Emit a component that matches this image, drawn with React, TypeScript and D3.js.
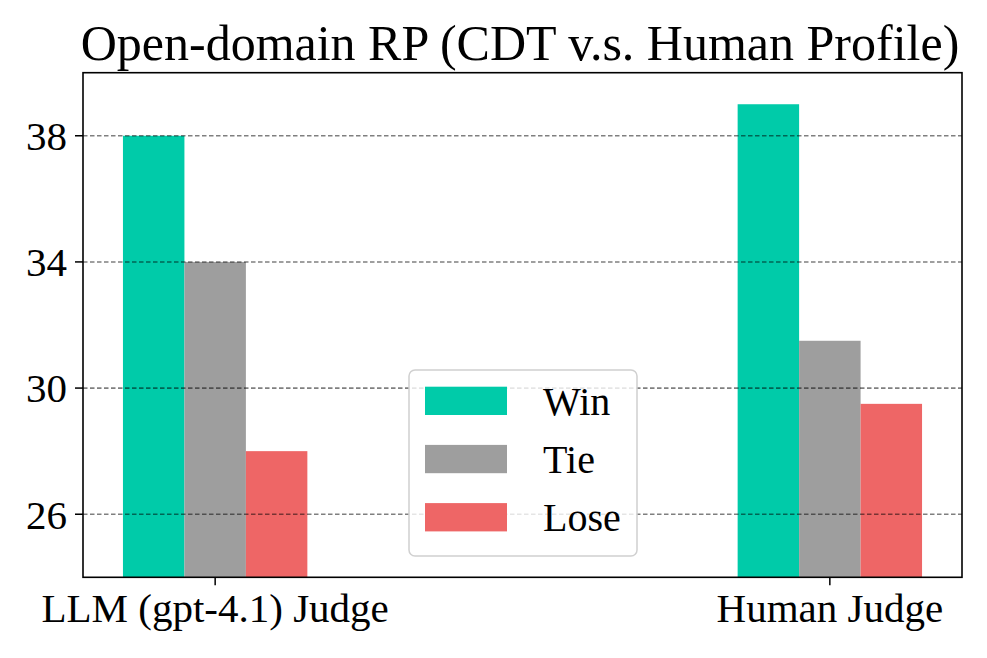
import React from "react";
import * as d3 from "d3";

const categories = ["LLM (gpt-4.1) Judge", "Human Judge"];
const seriesNames = ["Win", "Tie", "Lose"];
const winValues = [38, 39];
const tieValues = [34, 31.5];
const loseValues = [28, 29.5];
const yTicks = [26, 30, 34, 38];
const colors = ["#00cba9", "#9e9e9e", "#ee6666"];
const title = "Open-domain RP (CDT v.s. Human Profile)";

export default function App() {
  const W = 987, H = 658;
  const left = 83, right = 962, top = 72.7, bottom = 577.3;
  const font = "Times New Roman, Liberation Serif, Times, serif";
  const x = d3.scaleLinear().domain([-0.215, 1.215]).range([left, right]);
  const y = d3.scaleLinear().domain([24, 40]).range([bottom, top]);
  const barW = 0.1;
  const series = [winValues, tieValues, loseValues];

  return (
    <svg width={W} height={H} style={{ position: "absolute", left: 0, top: 0, fontFamily: font }}>
      <rect x={0} y={0} width={W} height={H} fill="#fff" />
      <text x={520} y={60} textAnchor="middle" fontSize={50} fill="#000">{title}</text>
      {series.map((vals, si) =>
        vals.map((v, ci) => {
          const cx = ci + (si - 1) * barW;
          return (
            <rect key={`${si}-${ci}`} x={x(cx - barW / 2)} y={y(v)} width={x(cx + barW / 2) - x(cx - barW / 2)} height={y(24) - y(v)} fill={colors[si]} />
          );
        })
      )}
      {yTicks.map((t) => (
        <line key={`g${t}`} x1={left} x2={right} y1={y(t)} y2={y(t)} stroke="#000" strokeOpacity={0.5} strokeWidth={1.6} strokeDasharray="4.5,2.5" />
      ))}
      <g>
        <rect x={409} y={370} width={228} height={186} rx={6} fill="#fff" fillOpacity={0.8} stroke="#d0d0d0" strokeWidth={1.5} />
        {seriesNames.map((n, i) => (
          <g key={n}>
            <rect x={425} y={386.7 + i * 58.2} width={82} height={28.3} fill={colors[i]} />
            <text x={543} y={415 + i * 58.2} fontSize={40} fill="#000">{n}</text>
          </g>
        ))}
      </g>
      <rect x={left} y={top} width={right - left} height={bottom - top} fill="none" stroke="#000" strokeWidth={1.6} />
      {yTicks.map((t) => (
        <g key={`t${t}`}>
          <line x1={left - 8} x2={left} y1={y(t)} y2={y(t)} stroke="#000" strokeWidth={1.5} />
          <text x={left - 16} y={y(t)} dy="0.35em" textAnchor="end" fontSize={41} fill="#000">{t}</text>
        </g>
      ))}
      {categories.map((c, i) => (
        <g key={c}>
          <line x1={x(i)} x2={x(i)} y1={bottom} y2={bottom + 8} stroke="#000" strokeWidth={1.5} />
          <text x={x(i)} y={621.5} textAnchor="middle" fontSize={41} fill="#000">{c}</text>
        </g>
      ))}
    </svg>
  );
}
